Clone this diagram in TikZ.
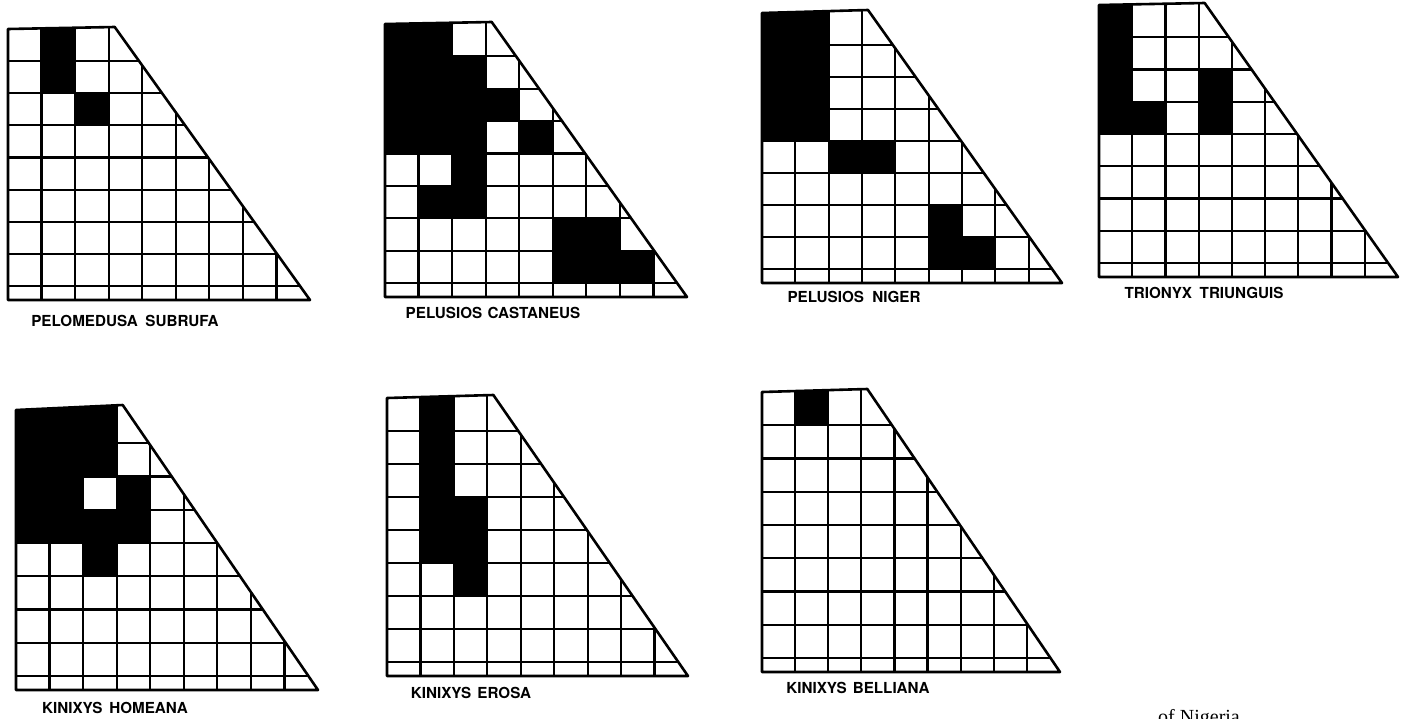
\documentclass[tikz,border=0pt]{standalone}
\usepackage{fontspec}
\newfontfamily\labfont{TeX Gyre Heros}
\newfontfamily\capfont{Liberation Serif}
\tikzset{
  gridline/.style={line width=2.2pt, line cap=round},
  outline/.style={line width=2.6pt, line join=round},
  cell/.style={fill=black},
  splabel/.style={font=\labfont\bfseries\fontsize{15.2}{16}\selectfont, inner sep=0pt, anchor=center}
}
% #1 x0, #2 y0, #3 width, #4 height, #5 black cells col/row, #6 rise of top-right corner
\newcommand{\plastron}[6]{%
  \begin{scope}[shift={(#1,#2)}]
    \pgfmathsetmacro{\cwid}{#3/9}
    \pgfmathsetmacro{\rhgt}{(#4-14)/8}
    \pgfmathsetmacro{\topx}{3.18*\cwid}
    \begin{scope}
      \clip (0,0) -- (\topx,-#6) -- (#3,#4) -- (0,#4) -- cycle;
      \foreach \cc/\rr in {#5} {
        \fill[cell] ({\cc*\cwid},{\rr*\rhgt-(\rr==0)*#6}) rectangle ({(\cc+1)*\cwid},{(\rr+1)*\rhgt});
      }
      \foreach \ii in {1,...,8} {
        \draw[gridline] ({\ii*\cwid},-#6) -- ({\ii*\cwid},#4);
        \draw[gridline] (0,{\ii*\rhgt}) -- (#3,{\ii*\rhgt});
      }
    \end{scope}
    \draw[outline] (0,0) -- (\topx,-#6) -- (#3,#4) -- (0,#4) -- cycle;
  \end{scope}}
\begin{document}
\begin{tikzpicture}[x=1pt,y=-1pt]
\useasboundingbox (0,0) rectangle (1405,718);
\fill[white] (0,0) rectangle (1405,718);

\plastron{8}{29}{302}{271}{1/0,1/1,2/2}{2}
\plastron{385}{24}{302}{273}{0/0,1/0,0/1,1/1,2/1,0/2,1/2,2/2,3/2,0/3,1/3,2/3,4/3,2/4,1/5,2/5,5/6,6/6,5/7,6/7,7/7}{2}
\plastron{762}{13}{300}{270}{0/0,1/0,0/1,1/1,0/2,1/2,0/3,1/3,2/4,3/4,5/6,5/7,6/7}{3}
\plastron{1099}{5}{299}{272}{0/0,0/1,0/2,0/3,1/3,3/2,3/3}{2}
\plastron{16}{410}{302}{280}{0/0,1/0,2/0,0/1,1/1,2/1,0/2,1/2,3/2,0/3,1/3,2/3,3/3,2/4}{5}
\plastron{387}{398}{301}{278}{1/0,1/1,1/2,1/3,1/4,2/3,2/4,2/5}{3}
\plastron{762}{392}{298}{280}{1/0}{3}

\node[splabel] (l1) at (125,321) {PELOMEDUSA\hspace{0.5em}SUBRUFA};
\node[splabel] (l2) at (493,313) {PELUSIOS\hspace{0.35em}CASTANEUS};
\node[splabel] (l3) at (854,297) {PELUSIOS\hspace{0.55em}NIGER};
\node[splabel] (l4) at (1204,293) {TRIONYX\hspace{0.5em}TRIUNGUIS};
\node[splabel] (l5) at (115,708) {KINIXYS\hspace{0.45em}HOMEANA};
\node[splabel] (l6) at (471,693) {KINIXYS\hspace{0.4em}EROSA};
\node[splabel] (l7) at (858,688) {KINIXYS\hspace{0.4em}BELLIANA};

\begin{scope}
  \clip (0,0) rectangle (1405,718);
  \node[font=\capfont\fontsize{20}{22}\selectfont, anchor=base west, inner sep=0pt] (cap) at (1158,723) {of Nigeria};
\end{scope}
\end{tikzpicture}
\end{document}
